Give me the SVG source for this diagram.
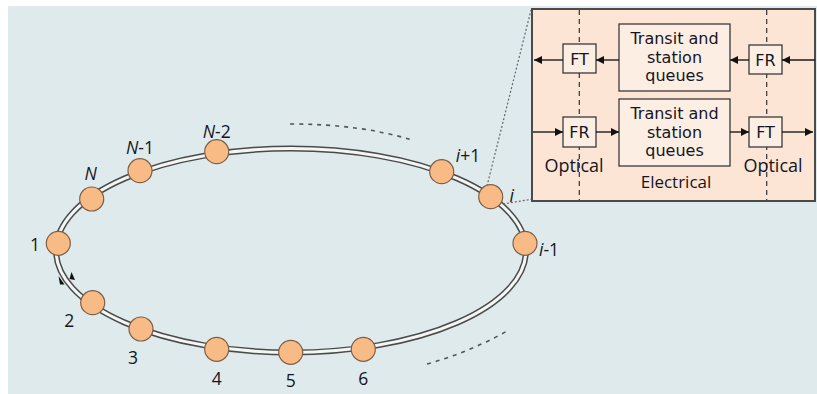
<svg xmlns="http://www.w3.org/2000/svg" width="817" height="394" viewBox="0 0 817 394">
<style>
text{font-family:"Open Sans","Noto Sans","Liberation Sans",sans-serif;fill:#15151f}
.lbl{font-size:17.5px;text-anchor:middle}
.it{font-style:italic}
.node{fill:#f8bb86;stroke:#7d5f48;stroke-width:1.2}
.bx{fill:#fdeee4;stroke:#3a3a3a;stroke-width:1.3}
.bt{font-family:"DejaVu Sans","Open Sans",sans-serif;font-size:16px;text-anchor:middle}
.ar{stroke:#1a1a1a;stroke-width:1.4;fill:none;marker-end:url(#ah)}
.dash{fill:none;stroke:#555;stroke-width:1.6;stroke-dasharray:4 5}
.dot{fill:none;stroke:#666;stroke-width:1.2;stroke-dasharray:2 2}
</style>
<defs>
<marker id="ah" viewBox="0 0 10 10" refX="10" refY="5" markerWidth="11" markerHeight="8" markerUnits="userSpaceOnUse" orient="auto"><path d="M0,0L10,5L0,10z" fill="#111"/></marker>
</defs>
<rect x="8" y="6" width="809" height="388" fill="#dfeaec"/>
<g id="ring">
<ellipse cx="291" cy="250.5" rx="235" ry="102" fill="none" stroke="#4a4a4a" stroke-width="6"/>
<ellipse cx="291" cy="250.5" rx="235" ry="102" fill="none" stroke="#f4f6f6" stroke-width="3"/>
</g>
<g id="connectors">
<path d="M58.5,276 L64.5,284.5 L60,284.5z" fill="#111"/>
<path d="M71.5,272 L75,280 L69.5,279z" fill="#111"/>
<path class="dash" d="M290,124 Q360,124 412,140"/>
<path class="dash" d="M427,364 Q470,352 507,331"/>
<path class="dot" d="M487,186 L531,10"/>
<path class="dot" d="M503,204 L533,199"/>
</g>
<g id="n1"><circle class="node" cx="58.3" cy="243.3" r="12"/><text class="lbl" x="35" y="251">1</text></g>
<g id="n2"><circle class="node" cx="92.7" cy="302.7" r="12"/><text class="lbl" x="69.3" y="326.5">2</text></g>
<g id="n3"><circle class="node" cx="141" cy="329" r="12"/><text class="lbl" x="133" y="364">3</text></g>
<g id="n4"><circle class="node" cx="216.7" cy="349.3" r="12"/><text class="lbl" x="216.7" y="384.5">4</text></g>
<g id="n5"><circle class="node" cx="290.7" cy="352.3" r="12"/><text class="lbl" x="290.7" y="387">5</text></g>
<g id="n6"><circle class="node" cx="363.3" cy="349.3" r="12"/><text class="lbl" x="363.3" y="384.5">6</text></g>
<g id="nim1"><circle class="node" cx="525" cy="243.3" r="12"/><text class="lbl" x="549" y="255.5"><tspan class="it">i</tspan>-1</text></g>
<g id="ni"><circle class="node" cx="490.7" cy="196.7" r="12"/><text class="lbl it" x="511.7" y="201.5">i</text></g>
<g id="nip1"><circle class="node" cx="441.7" cy="171.7" r="12"/><text class="lbl" x="468" y="161.5"><tspan class="it">i</tspan>+1</text></g>
<g id="nNm2"><circle class="node" cx="216.7" cy="151.7" r="12"/><text class="lbl" x="216.7" y="138"><tspan class="it">N</tspan>-2</text></g>
<g id="nNm1"><circle class="node" cx="140" cy="170.7" r="12"/><text class="lbl" x="140" y="153.5"><tspan class="it">N</tspan>-1</text></g>
<g id="nN"><circle class="node" cx="91.7" cy="199" r="12"/><text class="lbl it" x="90.7" y="179.5">N</text></g>
<g id="inset">
<rect x="532" y="9" width="283" height="192" fill="#fde5d5" stroke="#4a4a4a" stroke-width="2"/>
<line x1="579.3" y1="10" x2="579.3" y2="200" stroke="#333" stroke-width="1.2" stroke-dasharray="5 4"/>
<line x1="766.7" y1="10" x2="766.7" y2="200" stroke="#333" stroke-width="1.2" stroke-dasharray="5 4"/>
</g>
<g id="q1"><rect class="bx" x="619" y="24" width="111" height="67"/><text class="bt" x="674.5" y="43.5">Transit and</text><text class="bt" x="674.5" y="62.5">station</text><text class="bt" x="674.5" y="81">queues</text></g>
<g id="q2"><rect class="bx" x="619" y="99" width="111" height="67"/><text class="bt" x="674.5" y="118.5">Transit and</text><text class="bt" x="674.5" y="137.5">station</text><text class="bt" x="674.5" y="156">queues</text></g>
<g id="ft1"><rect class="bx" x="563" y="44" width="33" height="29"/><text class="bt" x="579.5" y="64.5">FT</text></g>
<g id="fr1"><rect class="bx" x="749" y="45" width="33" height="29"/><text class="bt" x="765.5" y="65.5">FR</text></g>
<g id="fr2"><rect class="bx" x="563" y="117" width="33" height="30"/><text class="bt" x="579.5" y="138">FR</text></g>
<g id="ft2"><rect class="bx" x="749" y="117" width="33" height="30"/><text class="bt" x="765.5" y="138">FT</text></g>
<g id="arrows">
<line class="ar" x1="815" y1="60" x2="782" y2="60"/>
<line class="ar" x1="749" y1="60" x2="730" y2="60"/>
<line class="ar" x1="619" y1="60" x2="596" y2="60"/>
<line class="ar" x1="563" y1="60" x2="534" y2="60"/>
<line class="ar" x1="533" y1="132" x2="563" y2="132"/>
<line class="ar" x1="596" y1="132" x2="619" y2="132"/>
<line class="ar" x1="730" y1="132" x2="749" y2="132"/>
<line class="ar" x1="782" y1="132" x2="813" y2="132"/>
</g>
<g id="labels">
<text x="574" y="172" font-size="18" text-anchor="middle">Optical</text>
<text x="773" y="172" font-size="18" text-anchor="middle">Optical</text>
<text x="676" y="188" font-size="17" text-anchor="middle">Electrical</text>
</g>
</svg>
